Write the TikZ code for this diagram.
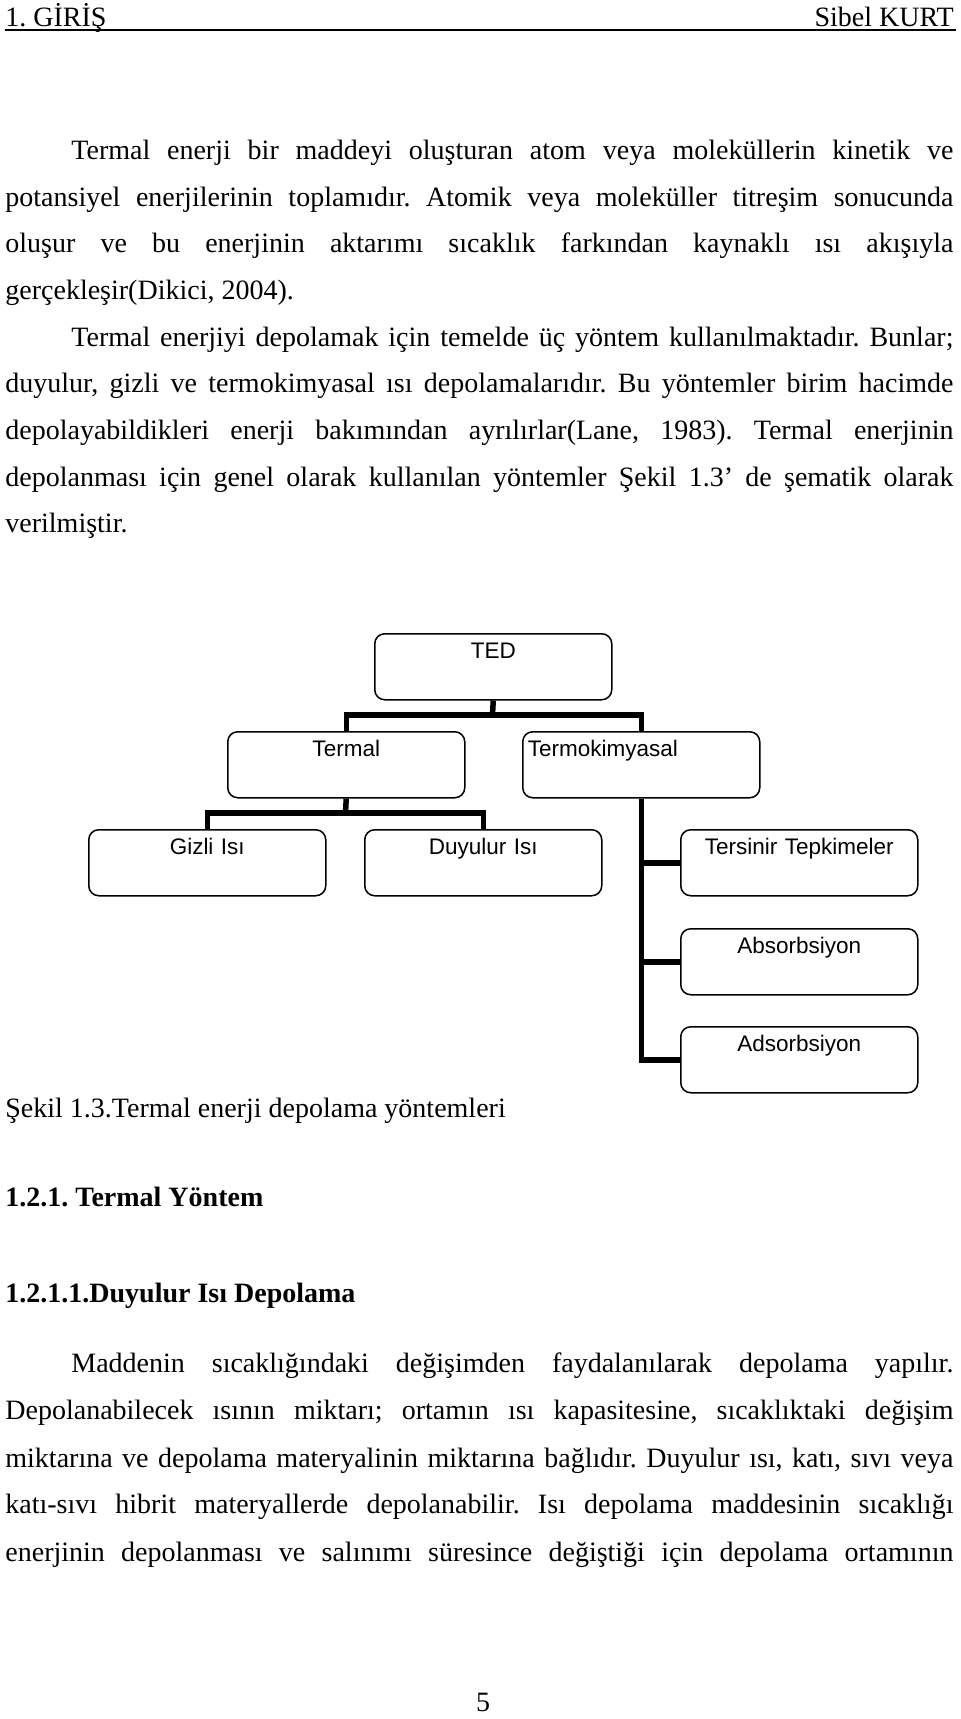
\documentclass[tikz,border=0pt]{standalone}
\usepackage{fontspec}
\setmainfont{Liberation Serif}
\newfontfamily\sansf{Liberation Sans}
\frenchspacing
\begin{document}
\begin{tikzpicture}[x=0.5pt,y=-0.5pt,
  body/.style={font=\fontsize{14pt}{16pt}\selectfont, inner sep=0pt, anchor=base west},
  box/.style={draw, rounded corners=5pt, line width=0.75pt, text width=118.5pt, align=center,
    inner sep=0pt, text height=12.5pt, text depth=20.5pt,
    font=\sansf\fontsize{11.25pt}{13pt}\selectfont, anchor=north west},
  leftbox/.style={box, text width=113.5pt, align=left, inner xsep=2.5pt},
  conn/.style={line width=2.75pt, line join=miter}]
\useasboundingbox (0,0) rectangle (960,1719);

% header
\node[body] (h1) at (5,26) {1. GİRİŞ};
\node[body, anchor=base east] (h2) at (954,26) {Sibel KURT};
\coordinate (hl) at (5,30);
\coordinate (hr) at (956,30);
\draw[line width=0.75pt] (hl) -- (hr);

% paragraph 1
\node[body] (l1) at (71,159) {\makebox[441pt][s]{Termal enerji bir maddeyi oluşturan atom veya moleküllerin kinetik ve}};
\node[body] (l2) at (5,206) {\makebox[474pt][s]{potansiyel enerjilerinin toplamıdır. Atomik veya moleküller titreşim sonucunda}};
\node[body] (l3) at (5,252) {\makebox[474pt][s]{oluşur ve bu enerjinin aktarımı sıcaklık farkından kaynaklı ısı akışıyla}};
\node[body] (l4) at (5,299) {gerçekleşir(Dikici, 2004).};

% paragraph 2
\node[body] (l5) at (71,346) {\makebox[441pt][s]{Termal enerjiyi depolamak için temelde üç yöntem kullanılmaktadır. Bunlar;}};
\node[body] (l6) at (5,392) {\makebox[474pt][s]{duyulur, gizli ve termokimyasal ısı depolamalarıdır. Bu yöntemler birim hacimde}};
\node[body] (l7) at (5,439) {\makebox[474pt][s]{depolayabildikleri enerji bakımından ayrılırlar(Lane, 1983). Termal enerjinin}};
\node[body] (l8) at (5,486) {\makebox[474pt][s]{depolanması için genel olarak kullanılan yöntemler Şekil 1.3’ de şematik olarak}};
\node[body] (l9) at (5,532) {verilmiştir.};

% diagram
\node[box] (ted) at (374,633) {TED};
\node[box] (termal) at (227,731) {Termal};
\node[leftbox] (termo) at (522,731) {Termokimyasal};
\node[box] (gizli) at (88,829) {Gizli Isı};
\node[box] (duy) at (364,829) {Duyulur Isı};
\node[box] (ters) at (680,829) {Tersinir Tepkimeler};
\node[box] (abs) at (680,928) {Absorbsiyon};
\node[box] (ads) at (680,1026) {Adsorbsiyon};

\coordinate (j1) at (492.5,715);
\coordinate (j2) at (345.5,813);
\draw[conn] (ted.south) -- (j1);
\draw[conn] (termal.north) |- (j1) -| (termo.north);
\draw[conn] (termal.south) -- (j2);
\draw[conn] (gizli.north) |- (j2) -| (duy.north);
\draw[conn] (termo.south) |- (ads.west);
\draw[conn] (ters.west) -- (ters.west -| termo.south);
\draw[conn] (abs.west) -- (abs.west -| termo.south);

% caption and headings
\node[body] (cap) at (5,1117) {Şekil 1.3.Termal enerji depolama yöntemleri};
\node[body, font=\fontsize{14pt}{16pt}\selectfont\bfseries] (s1) at (5,1206) {1.2.1. Termal Yöntem};
\node[body, font=\fontsize{14pt}{16pt}\selectfont\bfseries] (s2) at (5,1302) {1.2.1.1.Duyulur Isı Depolama};

% paragraph 3
\node[body] (m1) at (71,1372) {\makebox[441pt][s]{Maddenin sıcaklığındaki değişimden faydalanılarak depolama yapılır.}};
\node[body] (m2) at (5,1419) {\makebox[474pt][s]{Depolanabilecek ısının miktarı; ortamın ısı kapasitesine, sıcaklıktaki değişim}};
\node[body] (m3) at (5,1467) {\makebox[474pt][s]{miktarına ve depolama materyalinin miktarına bağlıdır. Duyulur ısı, katı, sıvı veya}};
\node[body] (m4) at (5,1513) {\makebox[474pt][s]{katı-sıvı hibrit materyallerde depolanabilir. Isı depolama maddesinin sıcaklığı}};
\node[body] (m5) at (5,1561) {\makebox[474pt][s]{enerjinin depolanması ve salınımı süresince değiştiği için depolama ortamının}};

% page number
\node[body, anchor=base] (pn) at (483,1711) {5};
\end{tikzpicture}
\end{document}
